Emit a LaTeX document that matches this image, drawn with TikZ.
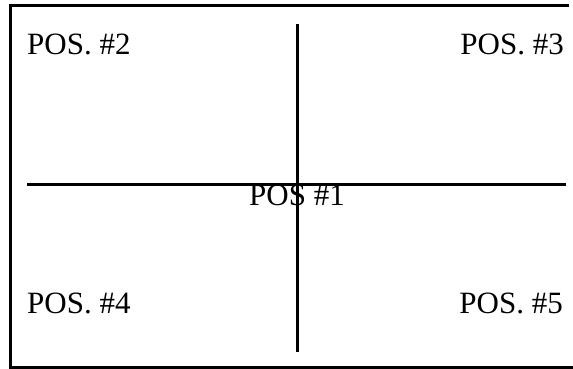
\documentclass[tikz,border=0pt]{standalone}
\usepackage{fontspec}
\setmainfont{Liberation Serif}
\begin{document}
\begin{tikzpicture}[x=1pt,y=-1pt,
  rule/.style={line width=3pt},
  lbl/.style={inner sep=0pt,font=\fontsize{31}{37}\selectfont}]
\useasboundingbox[fill=white] (0,0) rectangle (573,369);
% frame
\coordinate (tr) at (569,5.5);
\coordinate (tl) at (10.5,5.5);
\coordinate (bl) at (10.5,367.5);
\coordinate (br) at (573,367.5);
\draw[rule] (tr) -- (tl) -- (bl) -- (br);
% cross
\coordinate (hl) at (27,184.5);
\coordinate (hr) at (566,184.5);
\coordinate (vt) at (297.5,24);
\coordinate (vb) at (297.5,352);
\draw[rule] (hl) -- (hr);
\draw[rule] (vt) -- (vb);
% labels
\node[lbl,anchor=base west] (p2) at (27,55) {POS. \#2};
\node[lbl,anchor=base east] (p3) at (564,55) {POS. \#3};
\node[lbl,anchor=base west] (p4) at (27,313) {POS. \#4};
\node[lbl,anchor=base east] (p5) at (563,313) {POS. \#5};
\node[lbl,anchor=base west] (p1) at (249,205) {POS \#1};
\end{tikzpicture}
\end{document}
